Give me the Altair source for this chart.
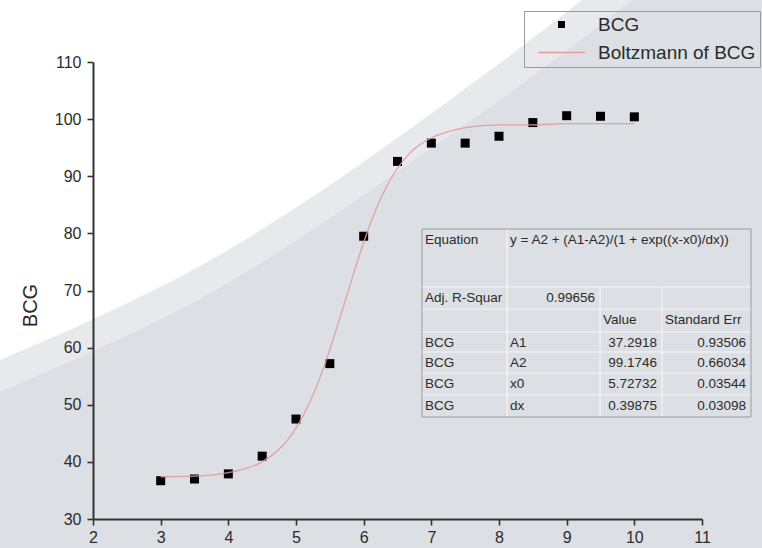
import altair as alt
import pandas as pd

# ---------------- data ----------------
x_vals = [3, 3.5, 4, 4.5, 5, 5.5, 6, 6.5, 7, 7.5, 8, 8.5, 9, 9.5, 10]
bcg_vals = [36.7, 37.0, 37.9, 41.0, 47.5, 57.2, 79.5, 92.6, 95.8, 95.8, 97.0, 99.4, 100.6, 100.5, 100.4]

fit_x = [3, 3.5, 4, 4.25, 4.5, 4.75, 4.875, 5, 5.125, 5.25, 5.375, 5.5, 5.625, 5.75,
         5.875, 6, 6.125, 6.25, 6.375, 6.5, 6.625, 6.75, 7, 7.25, 7.5, 8, 8.5, 9, 9.5, 10]
fit_y = [37.4, 37.5, 38.1, 38.8, 40.0, 42.2, 43.8, 45.9, 48.5, 51.7, 55.4, 59.7, 64.3, 69.1,
         73.9, 78.4, 82.5, 86.0, 89.0, 91.4, 93.3, 94.8, 96.7, 97.8, 98.5, 99.0, 99.0, 99.2, 99.2, 99.2]

series_names = ["BCG", "Boltzmann of BCG"]
x_ticks = [2, 2.5, 3, 3.5, 4, 4.5, 5, 5.5, 6, 6.5, 7, 7.5, 8, 8.5, 9, 9.5, 10, 10.5, 11]
y_ticks = [30, 35, 40, 45, 50, 55, 60, 65, 70, 75, 80, 85, 90, 95, 100, 105, 110]

table_col1 = ["Equation", "Adj. R-Squar", "", "BCG", "BCG", "BCG", "BCG"]
table_col2 = ["y = A2 + (A1-A2)/(1 + exp((x-x0)/dx))", "0.99656", "", "A1", "A2", "x0", "dx"]
table_col3 = ["", "", "Value", "37.2918", "99.1746", "5.72732", "0.39875"]
table_col4 = ["", "", "Standard Err", "0.93506", "0.66034", "0.03544", "0.03098"]

# ---------------- layout (pixels) ----------------
CANVAS_W, CANVAS_H = 762, 548
PAD_L, PAD_T = 93, 62
W, H = 609, 457
PAD_R, PAD_B = CANVAS_W - PAD_L - W, CANVAS_H - PAD_T - H

px_x = alt.Scale(domain=[0, CANVAS_W], range=[-PAD_L, CANVAS_W - PAD_L])
px_y = alt.Scale(domain=[0, CANVAS_H], range=[-PAD_T, CANVAS_H - PAD_T])

# background swoosh edges (decoration)
white_edge_x = [0, 100, 200, 300, 400, 450, 500, 550, 582]
white_edge_y = [360, 316, 266, 205, 136, 100, 63, 25, 0]
band_edge_x = [0, 100, 200, 300, 400, 450, 500, 550, 600, 632]
band_edge_y = [392, 348, 299, 238, 170, 135, 100, 63, 25, 0]

col_edges = [422, 507, 600, 662, 751]
row_edges = [229, 287, 309, 332, 352, 373, 395, 417]

FONT = "Liberation Sans"
TXT = "#2b2b2b"
LINE_COLOR = "#e39a9a"
LINE_PATH = "M-6.7,-0.22L6.7,-0.22L6.7,0.22L-6.7,0.22Z"

# ---------------- background ----------------
band_df = pd.DataFrame({"px": band_edge_x, "py": band_edge_y, "top": 0})
white_df = pd.DataFrame({"px": white_edge_x, "py": white_edge_y, "top": 0})

band = alt.Chart(band_df).mark_area(color="#e7e9ec", interpolate="monotone").encode(
    x=alt.X("px:Q", scale=px_x, axis=None),
    y=alt.Y("py:Q", scale=px_y, axis=None),
    y2="top:Q",
)
white = alt.Chart(white_df).mark_area(color="#ffffff", interpolate="monotone").encode(
    x=alt.X("px:Q", scale=px_x, axis=None),
    y=alt.Y("py:Q", scale=px_y, axis=None),
    y2="top:Q",
)
bg = alt.layer(band, white)

# ---------------- main plot ----------------
pts_df = pd.DataFrame({"x": x_vals, "y": bcg_vals, "series": series_names[0]})
fit_df = pd.DataFrame({"x": fit_x, "y": fit_y})

x_scale = alt.Scale(domain=[2, 11], nice=False, zero=False)
y_scale = alt.Scale(domain=[30, 110], nice=False, zero=False)

x_axis = alt.Axis(
    values=x_ticks, title=None, format="d",
    labelExpr="datum.value % 1 === 0 ? datum.label : ''",
    tickSize={"condition": {"test": "datum.value % 1 === 0", "value": 6}, "value": 4},
    labelFlush=False, labelOverlap=False, labelPadding=4, zindex=2,
)
y_axis = alt.Axis(
    values=y_ticks, title="BCG", format="d",
    labelExpr="datum.value % 10 === 0 ? datum.label : ''",
    tickSize={"condition": {"test": "datum.value % 10 === 0", "value": 6}, "value": 4},
    labelFlush=False, labelOverlap=False, labelPadding=6, zindex=2,
    titleAngle=270, titleX=-63, titleY=243, titleAlign="center", titleBaseline="middle",
)

legend = alt.Legend(
    title=None, orient="none", legendX=431, legendY=-51,
    symbolSize=49, labelFontSize=19, labelFont=FONT, labelColor=TXT, labelLimit=0,
    strokeColor="#9a9a9a", padding=4, rowPadding=8,
    symbolOffset=24, labelOffset=27, symbolStrokeWidth=0,
)

points = alt.Chart(pts_df).mark_point(filled=True, opacity=1, size=81).encode(
    x=alt.X("x:Q", scale=x_scale, axis=x_axis),
    y=alt.Y("y:Q", scale=y_scale, axis=y_axis),
    color=alt.Color("series:N", scale=alt.Scale(domain=series_names, range=["#000000", LINE_COLOR]), legend=legend),
    shape=alt.Shape("series:N", scale=alt.Scale(domain=series_names, range=["square", LINE_PATH]), legend=legend),
)
curve = alt.Chart(fit_df).mark_line(color=LINE_COLOR, strokeWidth=1.3, interpolate="monotone", opacity=0.9).encode(
    x=alt.X("x:Q", scale=x_scale),
    y=alt.Y("y:Q", scale=y_scale),
)
main = alt.layer(points, curve)

# ---------------- fit table ----------------
rows = list(zip(table_col1, table_col2, table_col3, table_col4))
cells = []
for r, row in enumerate(rows):
    for c, t in enumerate(row):
        if not t:
            continue
        try:
            float(t)
            num = True
        except ValueError:
            num = False
        cells.append({
            "tx": col_edges[c + 1] - 5 if num else col_edges[c] + 3,
            "ty": row_edges[r] + 10.5,
            "text": t,
            "align": "right" if num else "left",
        })
cells_df = pd.DataFrame(cells)

segs = []
for yv in row_edges[1:-1]:
    segs.append({"x1": col_edges[0], "x2": col_edges[-1], "y1": yv, "y2": yv})
segs.append({"x1": col_edges[1], "x2": col_edges[1], "y1": row_edges[0], "y2": row_edges[-1]})
for xv in col_edges[2:-1]:
    segs.append({"x1": xv, "x2": xv, "y1": row_edges[1], "y2": row_edges[-1]})
segs_df = pd.DataFrame(segs)
box_df = pd.DataFrame([{"x1": col_edges[0], "x2": col_edges[-1], "y1": row_edges[0], "y2": row_edges[-1]}])

grid = alt.Chart(segs_df).mark_rule(color="#f5f6f8", strokeWidth=1.2).encode(
    x=alt.X("x1:Q", scale=px_x, axis=None), x2="x2:Q",
    y=alt.Y("y1:Q", scale=px_y, axis=None), y2="y2:Q",
)
box = alt.Chart(box_df).mark_rect(fillOpacity=0, stroke="#9c9c9c", strokeWidth=1).encode(
    x=alt.X("x1:Q", scale=px_x, axis=None), x2="x2:Q",
    y=alt.Y("y1:Q", scale=px_y, axis=None), y2="y2:Q",
)
txt_left = alt.Chart(cells_df).transform_filter(alt.datum.align == "left").mark_text(
    align="left", baseline="middle", font=FONT, fontSize=13.5, color=TXT
).encode(
    x=alt.X("tx:Q", scale=px_x, axis=None),
    y=alt.Y("ty:Q", scale=px_y, axis=None),
    text="text:N",
)
txt_right = alt.Chart(cells_df).transform_filter(alt.datum.align == "right").mark_text(
    align="right", baseline="middle", font=FONT, fontSize=13.5, color=TXT
).encode(
    x=alt.X("tx:Q", scale=px_x, axis=None),
    y=alt.Y("ty:Q", scale=px_y, axis=None),
    text="text:N",
)
table = alt.layer(grid, box, txt_left, txt_right)

chart = alt.layer(bg, main, table).resolve_scale(
    x="independent", y="independent"
).properties(
    width=W, height=H,
    padding={"left": PAD_L, "top": PAD_T, "right": PAD_R, "bottom": PAD_B},
    autosize=alt.AutoSizeParams(type="none"),
    background="#dcdfe3",
).configure_view(stroke=None).configure_axis(
    grid=False, domainColor="#333333", domainWidth=2, tickColor="#333333", tickWidth=1.6,
    labelFont=FONT, labelFontSize=16, labelColor=TXT,
    titleFont=FONT, titleFontSize=20, titleFontWeight="normal", titleColor=TXT,
)

chart.save("out.html", embed_options={"renderer": "svg", "actions": False})
